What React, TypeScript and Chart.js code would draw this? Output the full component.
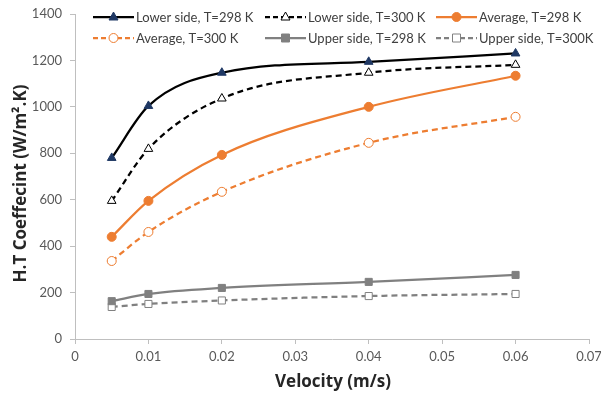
import React, { useEffect, useRef } from "react";
import { Chart, registerables } from "chart.js";

Chart.register(...registerables);

const velocity = [0.005, 0.01, 0.02, 0.04, 0.06];
const lower298 = [780, 1004, 1147, 1194, 1230];
const lower300 = [595, 819, 1036, 1147, 1181];
const average298 = [440, 595, 793, 1000, 1134];
const average300 = [336, 461, 634, 845, 957];
const upper298 = [163, 194, 220, 246, 276];
const upper300 = [138, 151, 166, 185, 194];
const seriesLabels = [
  "Lower side, T=298 K",
  "Lower side, T=300 K",
  "Average, T=298 K",
  "Average, T=300 K",
  "Upper side, T=298 K",
  "Upper side, T=300K",
];
const xTitle = "Velocity (m/s)";
const yTitle = "H.T Coeffecint (W/m².K)";
const xTicks = [0, 0.01, 0.02, 0.03, 0.04, 0.05, 0.06, 0.07];
const yTicks = [0, 200, 400, 600, 800, 1000, 1200, 1400];

const FONT = "Lato, 'Open Sans', sans-serif";
const TITLE_FONT = "'Open Sans', Lato, sans-serif";
const ORANGE = "#ED7D31";
const GRAY = "#808080";

type Style = {
  color: string;
  dash: number[];
  shape: "triangle" | "circle" | "rect";
  fill: string;
  stroke: string;
  radius: number;
};

const styles: Style[] = [
  { color: "#000000", dash: [], shape: "triangle", fill: "#1F3864", stroke: "#1F3864", radius: 5 },
  { color: "#000000", dash: [6, 4], shape: "triangle", fill: "#ffffff", stroke: "#000000", radius: 5 },
  { color: ORANGE, dash: [], shape: "circle", fill: ORANGE, stroke: ORANGE, radius: 4.5 },
  { color: ORANGE, dash: [6, 4], shape: "circle", fill: "#ffffff", stroke: ORANGE, radius: 4.5 },
  { color: GRAY, dash: [], shape: "rect", fill: GRAY, stroke: GRAY, radius: 5 },
  { color: GRAY, dash: [6, 4], shape: "rect", fill: "#ffffff", stroke: GRAY, radius: 5 },
];

function drawMarker(ctx: CanvasRenderingContext2D, s: Style, x: number, y: number) {
  ctx.save();
  ctx.setLineDash([]);
  ctx.lineWidth = 1;
  ctx.fillStyle = s.fill;
  ctx.strokeStyle = s.stroke;
  const r = s.radius;
  ctx.beginPath();
  if (s.shape === "circle") {
    ctx.arc(x, y, r, 0, Math.PI * 2);
  } else if (s.shape === "rect") {
    const h = r * 0.8;
    ctx.rect(x - h, y - h, 2 * h, 2 * h);
  } else {
    ctx.moveTo(x, y - r);
    ctx.lineTo(x + r * 0.9, y + r * 0.6);
    ctx.lineTo(x - r * 0.9, y + r * 0.6);
    ctx.closePath();
  }
  ctx.fill();
  ctx.stroke();
  ctx.restore();
}

const legendPlugin = {
  id: "customLegend",
  afterDraw(chart: any) {
    const ctx: CanvasRenderingContext2D = chart.ctx;
    const cols = [93, 265, 436];
    const lineLen = 41;
    const rows = [17, 38];
    ctx.save();
    ctx.font = `13px ${FONT}`;
    ctx.textBaseline = "middle";
    seriesLabels.forEach((label, i) => {
      const s = styles[i];
      const x = cols[i % 3];
      const y = rows[Math.floor(i / 3)];
      ctx.save();
      ctx.strokeStyle = s.color;
      ctx.lineWidth = 2.25;
      ctx.setLineDash(s.dash.length ? [5, 3] : []);
      ctx.beginPath();
      ctx.moveTo(x, y);
      ctx.lineTo(x + lineLen, y);
      ctx.stroke();
      ctx.restore();
      drawMarker(ctx, s, x + lineLen / 2, y);
      ctx.fillStyle = "#404040";
      ctx.fillText(label, x + lineLen + 2, y + 1);
    });

    // axis titles
    const area = chart.chartArea;
    ctx.fillStyle = "#262626";
    ctx.font = `bold 17px ${TITLE_FONT}`;
    ctx.textAlign = "center";
    ctx.textBaseline = "middle";
    ctx.fillText(xTitle, (area.left + area.right) / 2 + 1, 382);
    ctx.save();
    ctx.translate(21, (area.top + area.bottom) / 2 + 7);
    ctx.rotate(-Math.PI / 2);
    ctx.fillText(yTitle, 0, 0);
    ctx.restore();
    ctx.restore();
  },
};

const seriesValues = [lower298, lower300, average298, average300, upper298, upper300];

export default function App() {
  const ref = useRef<HTMLCanvasElement>(null);
  useEffect(() => {
    document.body.style.margin = "0";
    const datasets = seriesValues.map((vals, i) => {
      const s = styles[i];
      return {
        label: seriesLabels[i],
        data: velocity.map((v, j) => ({ x: v, y: vals[j] })),
        borderColor: s.color,
        backgroundColor: s.fill,
        borderWidth: 2.25,
        borderDash: s.dash,
        tension: 0.4,
        cubicInterpolationMode: "monotone" as const,
        pointStyle: s.shape,
        pointRadius: s.radius,
        pointBackgroundColor: s.fill,
        pointBorderColor: s.stroke,
        pointBorderWidth: 1,
        fill: false,
      };
    });
    const chart = new Chart(ref.current!, {
      type: "line",
      data: { datasets },
      options: {
        animation: false,
        responsive: false,
        layout: { padding: { top: 14, right: 12, left: 0, bottom: 0 } },
        plugins: { legend: { display: false }, tooltip: { enabled: false } },
        scales: {
          x: {
            type: "linear",
            min: 0,
            max: 0.07,
            afterBuildTicks: (scale: any) => {
              scale.ticks = xTicks.map((v) => ({ value: v }));
            },
            afterFit: (scale: any) => {
              scale.height = 58;
              scale.paddingLeft = 0;
              scale.paddingRight = 0;
            },
            ticks: {
              color: "#595959",
              font: { family: FONT, size: 13 },
              padding: 5,
              maxRotation: 0,
              callback: (v: any) => String(Number(v)),
            },
            grid: { display: true, drawOnChartArea: false, drawTicks: true, tickLength: 5, color: "#bfbfbf" },
            border: { color: "#bfbfbf", width: 1 },
            title: { display: false },
          },
          y: {
            type: "linear",
            min: 0,
            max: 1400,
            afterBuildTicks: (scale: any) => {
              scale.ticks = yTicks.map((v) => ({ value: v }));
            },
            afterFit: (scale: any) => {
              scale.width = 75;
              scale.paddingTop = 0;
              scale.paddingBottom = 0;
            },
            ticks: {
              color: "#595959",
              font: { family: FONT, size: 13 },
              padding: 8,
              callback: (v: any) => String(Number(v)),
            },
            grid: { display: true, drawOnChartArea: false, drawTicks: true, tickLength: 5, color: "#bfbfbf" },
            border: { color: "#bfbfbf", width: 1 },
            title: { display: false },
          },
        },
      },
      plugins: [legendPlugin],
    });
    return () => chart.destroy();
  }, []);
  return (
    <div style={{ position: "fixed", left: 0, top: 0, width: 601, height: 397, background: "#fff" }}>
      <canvas ref={ref} width={601} height={397} style={{ display: "block", width: 601, height: 397 }} />
    </div>
  );
}
